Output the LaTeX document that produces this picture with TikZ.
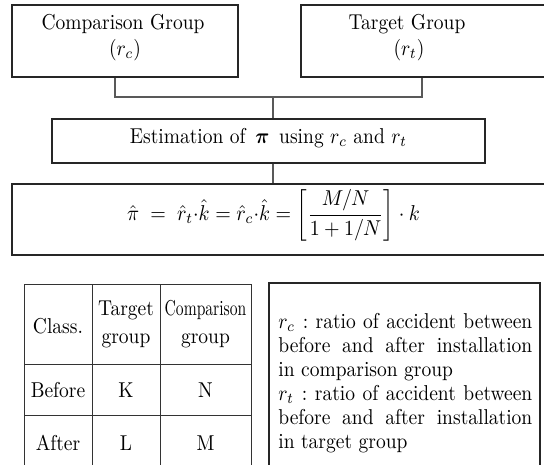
\documentclass[tikz,border=0pt]{standalone}
\usepackage{amsmath}
\usepackage{graphicx}
\tikzset{
  box/.style={draw=black!85, line width=1.2pt, inner sep=0pt},
  conn/.style={draw=black!65, line width=1.1pt},
  tbl/.style={draw=black!80, line width=1pt},
  txt/.style={inner sep=0pt, anchor=base, xscale=1.95, yscale=2.15},
  ltxt/.style={inner sep=0pt, anchor=base west, xscale=1.95, yscale=2.15},
}
\newcommand{\jline}[1]{\makebox[130.2pt][s]{#1}}
\begin{document}
\begin{tikzpicture}[x=1pt,y=-1pt]
\useasboundingbox (0,0) rectangle (544,464);
\clip (0,0) rectangle (544,464);
% boxes
\node[box, minimum width=226pt, minimum height=72pt] (A) at (125,41) {};
\node[box, minimum width=259pt, minimum height=72pt] (B) at (430.5,41) {};
\node[box, minimum width=433pt, minimum height=44pt] (E) at (268.5,141) {};
\node[box, minimum width=548pt, minimum height=71pt] (F) at (286,219.5) {};
% texts
\node[txt] (At1) at (123,29) {Comparison Group};
\node[txt] (At2) at (125,55) {$(r_c)$};
\node[txt] (Bt1) at (407,29) {Target Group};
\node[txt] (Bt2) at (409,55) {$(r_t)$};
\node[txt] (Et) at (268.5,143.5) {Estimation of \,$\boldsymbol{\pi}$\, using $r_c$ and $r_t$};
\node[inner sep=0pt, xscale=2.0, yscale=2.15] (Ft) at (273.5,215)
  {$\displaystyle \hat{\pi}\;=\;\hat{r}_t{\cdot}\hat{k} = \hat{r}_c{\cdot}\hat{k} = \left[\frac{M/N}{1+1/N}\right]\cdot k$};
% connectors
\coordinate (J) at (273,97);
\draw[conn] ([xshift=-10pt]A.south) |- (J);
\draw[conn] (J) -| ([xshift=-8.5pt]B.south);
\draw[conn] (J) -- (E.north -| J);
\draw[conn] (E.south -| J) -- (F.north -| J);
% table
\draw[tbl] (24,284) rectangle (251,480);
\draw[tbl] (92,284) -- (92,480);
\draw[tbl] (160,284) -- (160,480);
\draw[tbl] (24,364) -- (251,364);
\draw[tbl] (24,415) -- (251,415);
\node[txt] (c11) at (58,333) {Class.};
\node[txt] (c12a) at (126,315) {Target};
\node[txt] (c12b) at (126,343) {group};
\node[txt] (c13a) at (205.5,315) {\scalebox{0.8}[1]{Comparison}};
\node[txt] (c13b) at (205.5,343) {group};
\node[txt] (c21) at (58,397) {Before};
\node[txt] (c22) at (126,397) {K};
\node[txt] (c23) at (205.5,397) {N};
\node[txt] (c31) at (58,450) {After};
\node[txt] (c32) at (126,450) {L};
\node[txt] (c33) at (205.5,450) {M};
% legend
\node[box, minimum width=271pt, minimum height=207pt] (L) at (404.5,386.5) {};
\node[ltxt] (l1) at (278,328) {\jline{$r_c$\hspace{4pt}:\ ratio of accident between}};
\node[ltxt] (l2) at (278,352) {\jline{before and after installation}};
\node[ltxt] (l3) at (278,376) {in comparison group};
\node[ltxt] (l4) at (278,400) {\jline{$r_t$\hspace{4pt}:\ ratio of accident between}};
\node[ltxt] (l5) at (278,424) {\jline{before and after installation}};
\node[ltxt] (l6) at (278,448) {in target group};
\end{tikzpicture}
\end{document}
